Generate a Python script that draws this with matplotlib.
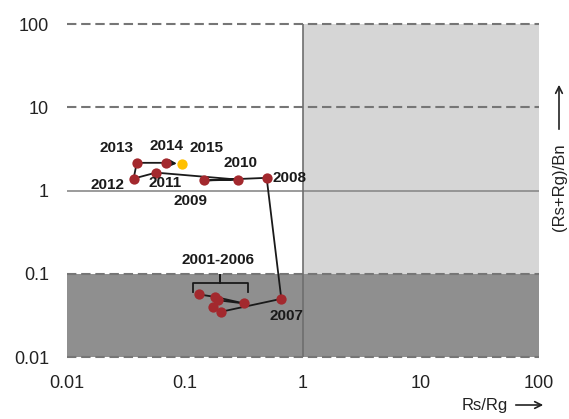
import matplotlib

matplotlib.use("Agg")
import matplotlib.pyplot as plt
from matplotlib.ticker import FixedLocator, FixedFormatter

plt.rcParams["font.family"] = ["Liberation Sans", "DejaVu Sans"]

# 年份与坐标 (Rs/Rg, (Rs+Rg)/Bn)
years = [2001, 2002, 2003, 2004, 2005, 2006, 2007, 2008,
         2009, 2010, 2011, 2012, 2013, 2014, 2015]
rs_rg = [0.132, 0.180, 0.316, 0.191, 0.174, 0.201, 0.655, 0.492,
         0.146, 0.283, 0.0568, 0.0367, 0.039, 0.0686, 0.095]
rsrg_bn = [0.0564, 0.0527, 0.044, 0.048, 0.0397, 0.0349, 0.050, 1.42,
           1.32, 1.35, 1.64, 1.39, 2.15, 2.15, 2.09]

tick_vals = [0.01, 0.1, 1, 10, 100]
tick_labels = ["0.01", "0.1", "1", "10", "100"]

# 年份标注偏移 (像素)
label_offsets = {
    2007: (5, -17, "center"),
    2008: (6, 0, "left"),
    2009: (-14, -21, "center"),
    2010: (2, 17, "center"),
    2011: (9, -10, "center"),
    2012: (-26, -6, "center"),
    2013: (-20, 15, "center"),
    2014: (1, 17, "center"),
    2015: (24, 16, "center"),
}

W, H = 569, 419
fig = plt.figure(figsize=(W / 100, H / 100), dpi=100)
ax = fig.add_axes([67 / W, 1 - 357 / H, (539 - 67) / W, (357 - 24) / H])
ax.set_xscale("log")
ax.set_yscale("log")
ax.set_xlim(0.01, 100)
ax.set_ylim(0.01, 100)

# 背景分区
ax.axvspan(1, 100, ymin=0.25, ymax=1, color="#d6d6d6", lw=0, zorder=0)
ax.axhspan(0.01, 0.1, color="#8f8f8f", lw=0, zorder=0)

for yv in [100, 10, 0.1, 0.01]:
    ax.axhline(yv, color="#767676", lw=1.5, ls=(0, (4.5, 2.3)), zorder=1,
               clip_on=False)
ax.axhline(1, color="#8a8a8a", lw=1.2, zorder=1)
ax.axvline(1, color="#6e6e6e", lw=1.2, zorder=1)

for s in ax.spines.values():
    s.set_visible(False)

ax.xaxis.set_major_locator(FixedLocator(tick_vals))
ax.xaxis.set_major_formatter(FixedFormatter(tick_labels))
ax.yaxis.set_major_locator(FixedLocator(tick_vals))
ax.yaxis.set_major_formatter(FixedFormatter(tick_labels))
ax.xaxis.set_minor_locator(FixedLocator([]))
ax.yaxis.set_minor_locator(FixedLocator([]))
ax.tick_params(axis="both", length=0, labelsize=13, labelcolor="#222222")
ax.tick_params(axis="x", pad=13)
ax.tick_params(axis="y", pad=13)

# 路径线
ax.plot(rs_rg[:-1], rsrg_bn[:-1], color="#1a1a1a", lw=1.3, zorder=3)
ax.annotate("", xy=(rs_rg[-1], rsrg_bn[-1]), xytext=(rs_rg[-2], rsrg_bn[-2]),
            arrowprops=dict(arrowstyle="-|>", color="#1a1a1a", lw=1.3,
                            shrinkA=0, shrinkB=4, mutation_scale=10),
            zorder=3)
ax.scatter(rs_rg[:-1], rsrg_bn[:-1], s=55, color="#a3292e", zorder=4, lw=0)
ax.scatter(rs_rg[-1:], rsrg_bn[-1:], s=55, color="#ffc000", zorder=4, lw=0)

for yr, xv, yv in zip(years, rs_rg, rsrg_bn):
    if yr not in label_offsets:
        continue
    dx, dy, ha = label_offsets[yr]
    ax.annotate(str(yr), (xv, yv), xytext=(dx, dy), textcoords="offset pixels",
                ha=ha, va="center", fontsize=11, fontweight="bold",
                color="#1a1a1a", zorder=5)

# 2001-2006 括号
bx = [0.116, 0.116, 0.198, 0.198, 0.198, 0.340, 0.340]
by = [0.060, 0.0769, 0.0769, 0.096, 0.0769, 0.0769, 0.060]
ax.plot(bx, by, color="#1a1a1a", lw=1.3, zorder=3)
ax.text(0.189, 0.145, "2001-2006", ha="center", va="center", fontsize=11,
        fontweight="bold", color="#1a1a1a", zorder=5)

# 轴标题与箭头
fig.text(485 / W, 1 - 405 / H, "Rs/Rg", ha="center", va="center",
         fontsize=12, color="#222222")
fig.add_artist(matplotlib.patches.FancyArrowPatch(
    (513 / W, 1 - 405 / H), (546 / W, 1 - 405 / H), transform=fig.transFigure,
    arrowstyle="->", mutation_scale=12, lw=1.2, color="#222222"))
fig.text(559 / W, 1 - 187 / H, "(Rs+Rg)/Bn", ha="center", va="center",
         rotation=90, fontsize=12, color="#222222")
fig.add_artist(matplotlib.patches.FancyArrowPatch(
    (559 / W, 1 - 132 / H), (559 / W, 1 - 82 / H), transform=fig.transFigure,
    arrowstyle="->", mutation_scale=12, lw=1.2, color="#222222"))

fig.savefig("out.png", dpi=100)
